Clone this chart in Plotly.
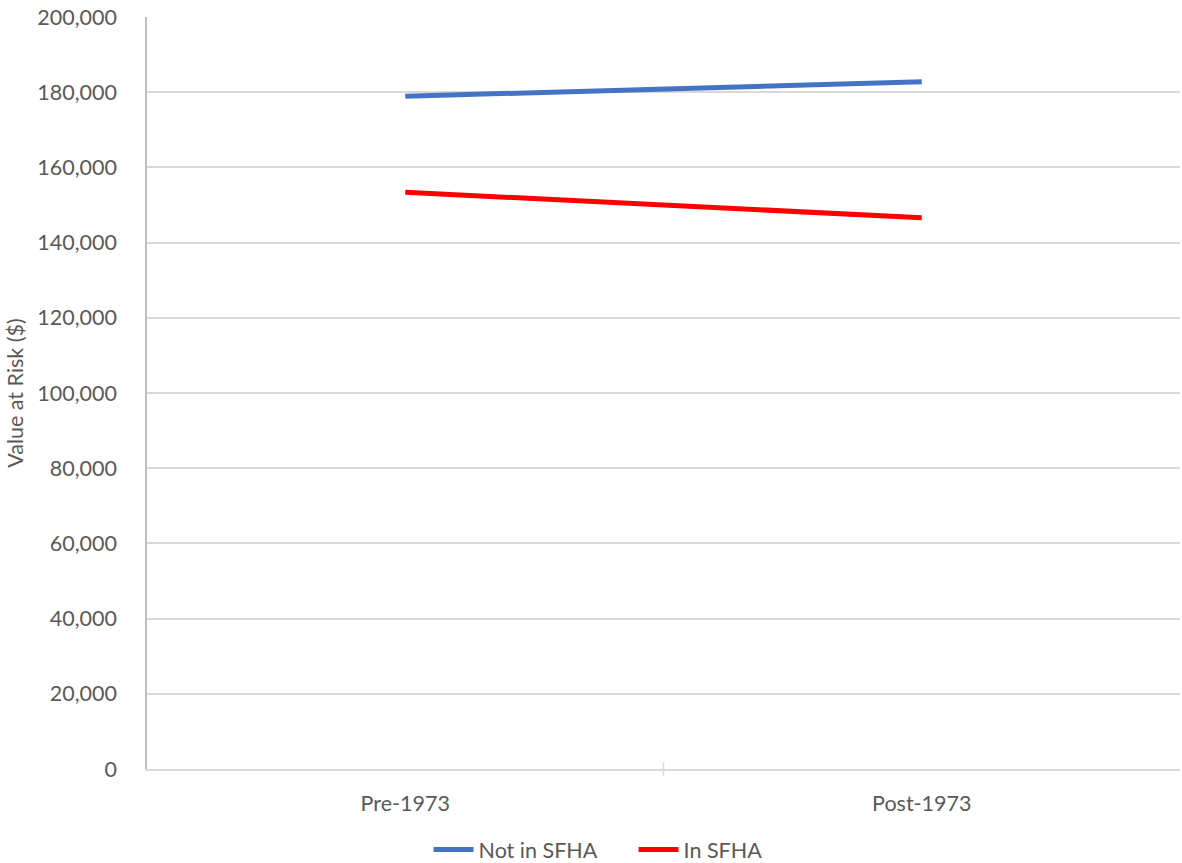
import plotly.graph_objects as go

categories = ["Pre-1973", "Post-1973"]
not_in_sfha = [178900, 182800]
in_sfha = [153400, 146600]

font_family = "Lato, 'Open Sans', sans-serif"
grey_text = "#595959"
grid_col = "#D9D9D9"
fs = 21.5

fig = go.Figure()
fig.add_trace(go.Scatter(
    x=categories, y=not_in_sfha, mode="lines", name="Not in SFHA",
    line=dict(color="#4472C4", width=5),
))
fig.add_trace(go.Scatter(
    x=categories, y=in_sfha, mode="lines", name="In SFHA",
    line=dict(color="#FF0000", width=5),
))

# cross tick mark on the category boundary
fig.add_shape(type="line", xref="x", yref="paper", x0=0.5, x1=0.5,
              y0=-0.009, y1=0.009, line=dict(color=grid_col, width=1.5))

fig.update_layout(
    width=1182, height=863,
    margin=dict(l=147, r=2, t=17, b=94, autoexpand=False),
    paper_bgcolor="white", plot_bgcolor="white",
    font=dict(family=font_family, size=fs, color=grey_text),
    showlegend=True,
    legend=dict(orientation="h", x=0.471, xanchor="center", y=-0.107, yanchor="middle",
                font=dict(size=fs, color=grey_text), itemwidth=40, tracegroupgap=0,
                entrywidth=150, entrywidthmode="pixels"),
    xaxis=dict(
        type="category", range=[-0.5, 1.5], showgrid=False, automargin=False,
        showline=True, linecolor=grid_col, linewidth=1.5,
        ticks="", ticklabelstandoff=14, tickfont=dict(size=fs, color=grey_text),
    ),
    yaxis=dict(
        range=[0, 200000], dtick=20000, tickformat=",d", automargin=False,
        showgrid=True, gridcolor=grid_col, gridwidth=1.5,
        showline=True, linecolor="#BFBFBF", linewidth=1.5,
        zeroline=False, ticks="", ticklabelstandoff=24,
        tickfont=dict(size=fs, color=grey_text),
        title=dict(text="Value at Risk ($)", font=dict(size=fs, color=grey_text), standoff=8),
    ),
)

fig.write_html("out.html")
